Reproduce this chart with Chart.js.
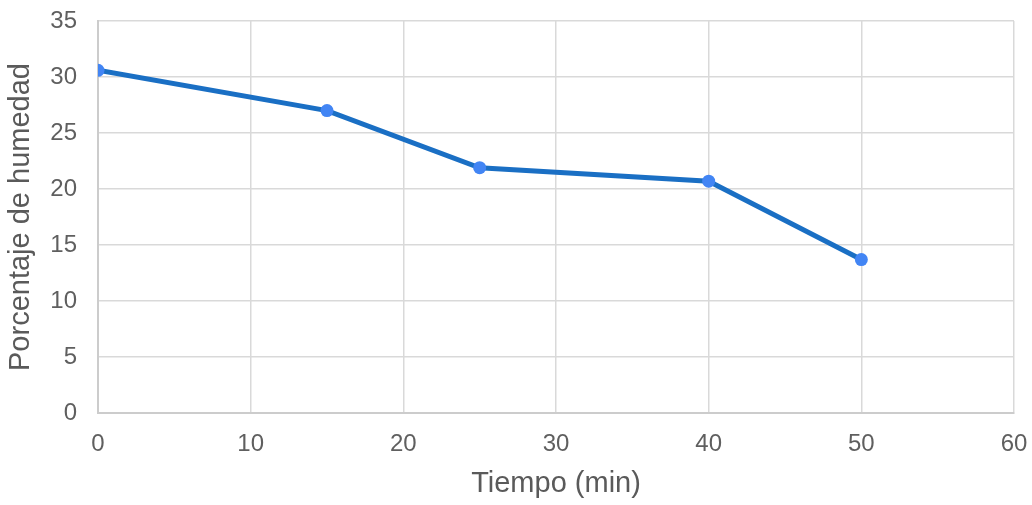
<!DOCTYPE html>
<html lang="es">
<head>
<meta charset="utf-8">
<title>Porcentaje de humedad vs. tiempo</title>
<script src="https://cdn.jsdelivr.net/npm/chart.js@4/dist/chart.umd.min.js"></script>
<style>
  html, body { margin: 0; padding: 0; background: #ffffff; }
  canvas { display: block; }
</style>
</head>
<body>
<canvas id="chart" width="1032" height="505"></canvas>
<script>
// Drying curve: moisture percentage measured over time
const tiempoMin = [0, 15, 25, 40, 50];
const humedadPct = [30.6, 27.0, 21.9, 20.7, 13.7];

const xTitle = 'Tiempo (min)';
const yTitle = 'Porcentaje de humedad';

const gridColor = '#d9d9d9';
const textColor = '#5f5f5f';
const fontFamily = '"Liberation Sans", Arial, sans-serif';

const points = tiempoMin.map((t, i) => ({ x: t, y: humedadPct[i] }));

new Chart(document.getElementById('chart'), {
  type: 'line',
  data: {
    datasets: [{
      data: points,
      borderColor: '#1a6fc4',
      borderWidth: 5,
      pointRadius: 6.5,
      pointHoverRadius: 6.5,
      pointBackgroundColor: '#4285f4',
      pointBorderColor: '#4285f4',
      pointBorderWidth: 0,
      tension: 0,
      fill: false
    }]
  },
  options: {
    responsive: false,
    animation: false,
    devicePixelRatio: 1,
    // outer margins around the plot area are set here; the scales' own
    // label overhang is cleared in afterFit so these values are exact
    layout: { padding: { top: 21, right: 18, bottom: 0, left: 0 } },
    plugins: {
      legend: { display: false },
      tooltip: { enabled: false }
    },
    scales: {
      x: {
        type: 'linear',
        min: 0,
        max: 60,
        afterFit: (scale) => {
          scale.height = 92;
          scale.paddingLeft = 0;
          scale.paddingRight = 0;
        },
        ticks: {
          stepSize: 10,
          padding: 17,
          color: textColor,
          font: { family: fontFamily, size: 24 },
          maxRotation: 0
        },
        grid: { color: gridColor, lineWidth: 1.5, drawTicks: false },
        border: { color: '#cccccc', width: 2 },
        title: {
          display: true,
          text: xTitle,
          color: '#5a5a5a',
          font: { family: fontFamily, size: 29 },
          padding: { top: 0, bottom: 4 }
        }
      },
      y: {
        type: 'linear',
        min: 0,
        max: 35,
        afterFit: (scale) => {
          scale.width = 98;
          scale.paddingTop = 0;
          scale.paddingBottom = 0;
        },
        ticks: {
          stepSize: 5,
          padding: 21,
          color: textColor,
          font: { family: fontFamily, size: 24 }
        },
        grid: { color: gridColor, lineWidth: 1.5, drawTicks: false },
        border: { color: '#cccccc', width: 2 },
        title: {
          display: true,
          text: yTitle,
          color: '#5a5a5a',
          font: { family: fontFamily, size: 29 },
          padding: { top: 4, bottom: 0 }
        }
      }
    }
  }
});
</script>
</body>
</html>
